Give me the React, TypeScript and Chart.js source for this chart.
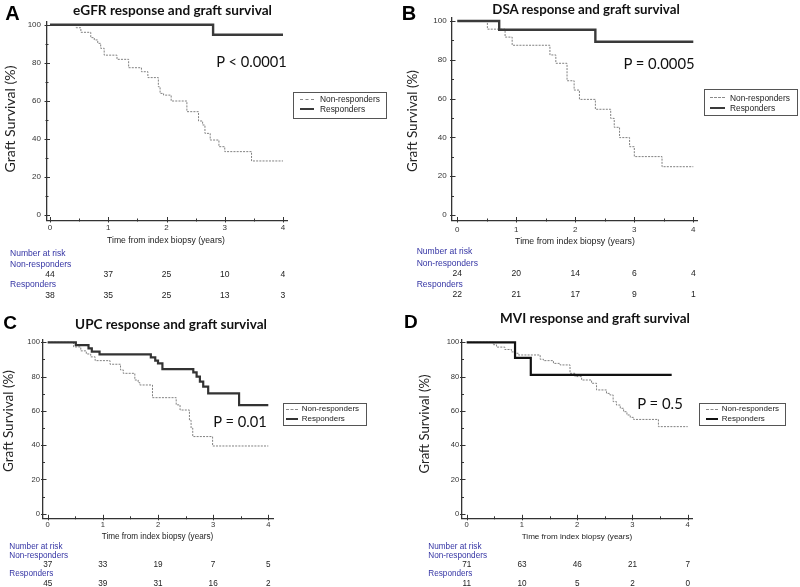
import React, { useEffect, useRef } from 'react';
import { Chart, registerables } from 'chart.js';
Chart.register(...registerables);

// ---------- shared axis values ----------
const timeTicks = [0, 1, 2, 3, 4];
const timeMinorTicks = [0.5, 1.5, 2.5, 3.5];
const survTicks = [0, 20, 40, 60, 80, 100];
const survMinorTicks = [10, 30, 50, 70, 90];
const seriesNames = ['Non-responders', 'Responders'];
const yAxisTitle = 'Graft Survival (%)';
const xAxisTitle = 'Time from index biopsy (years)';
const riskHeader = 'Number at risk';

// ---------- Panel A: eGFR ----------
const aTitle = 'eGFR response and graft survival';
const aP = 'P < 0.0001';
const aNonT = [0, 0.45, 0.53, 0.70, 0.76, 0.82, 0.87, 0.93, 1.15, 1.35, 1.57, 1.68, 1.86, 1.89, 1.95, 2.08, 2.35, 2.55, 2.62, 2.66, 2.75, 2.9, 3.0, 3.46, 4.0];
const aNonS = [100, 98.4, 96, 93.2, 92, 90.2, 87.6, 84, 81.8, 77.4, 75.3, 72.2, 67.4, 63.9, 63, 59.9, 54.3, 49.4, 47.3, 42.9, 39.4, 35.9, 33.3, 28.4, 28.4];
const aResT = [0, 2.8, 4.0];
const aResS = [100, 94.7, 94.7];
const aRiskNon = [44, 37, 25, 10, 4];
const aRiskRes = [38, 35, 25, 13, 3];

// ---------- Panel B: DSA ----------
const bTitle = 'DSA response and graft survival';
const bP = 'P = 0.0005';
const bNonT = [0, 0.51, 0.81, 0.93, 1.57, 1.67, 1.86, 1.98, 2.07, 2.34, 2.6, 2.66, 2.75, 2.92, 3.0, 3.47, 4.0];
const bNonS = [100, 95.8, 91.7, 87.5, 82.5, 78.2, 69.2, 64.4, 59.6, 54.5, 49.8, 45.2, 39.9, 35.2, 30.1, 24.9, 24.9];
const bResT = [0, 0.71, 2.34, 4.0];
const bResS = [100, 95.5, 89.3, 89.3];
const bRiskNon = [24, 20, 14, 6, 4];
const bRiskRes = [22, 21, 17, 9, 1];

// ---------- Panel C: UPC ----------
const cTitle = 'UPC response and graft survival';
const cP = 'P = 0.01';
const cNonT = [0, 0.47, 0.6, 0.7, 0.78, 0.86, 1.13, 1.32, 1.37, 1.58, 1.64, 1.67, 1.9, 2.33, 2.4, 2.57, 2.6, 2.63, 2.99, 4.0];
const cNonS = [100, 97.3, 95, 93.2, 91.5, 89.3, 87.2, 83.9, 81.9, 78, 76.5, 75.1, 67.7, 63.5, 60.5, 54.5, 50, 45, 39.5, 39.5];
const cResT = [0, 0.51, 0.74, 0.8, 0.94, 1.87, 1.95, 2.0, 2.08, 2.64, 2.7, 2.76, 2.82, 2.91, 3.47, 4.0];
const cResS = [100, 98.4, 96.5, 94.6, 93, 91.2, 89.3, 87.7, 84.4, 82.5, 80, 77, 74.1, 70.2, 63.4, 63.4];
const cRiskNon = [37, 33, 19, 7, 5];
const cRiskRes = [45, 39, 31, 16, 2];

// ---------- Panel D: MVI ----------
const dTitle = 'MVI response and graft survival';
const dP = 'P = 0.5';
const dNonT = [0, 0.48, 0.54, 0.69, 0.81, 0.875, 0.935, 1.33, 1.39, 1.57, 1.69, 1.87, 1.96, 2.08, 2.26, 2.35, 2.53, 2.59, 2.65, 2.71, 2.78, 2.84, 2.9, 2.96, 3.02, 3.47, 4.0];
const dNonS = [100, 98.6, 97.2, 95.8, 94.4, 93.6, 92.6, 90.1, 89.3, 87.7, 86.8, 81.9, 80, 78, 76.1, 72.2, 70.2, 69.3, 65.4, 63.4, 61.5, 59.5, 57.6, 56.2, 55, 50.8, 50.8];
const dResT = [0, 0.875, 1.16, 3.71];
const dResS = [100, 90.9, 81, 81];
const dRiskNon = [71, 63, 46, 21, 7];
const dRiskRes = [11, 10, 5, 2, 0];

// ---------- styling ----------
const SANS = '"Liberation Sans", Arial, sans-serif';
const HUM = 'Lato, "Open Sans", sans-serif';
const BLUE = '#3434a4';
const W = 800;
const H = 587;
const Y_BOX = 30;
const X_BOX = 16;

let measureCtx: CanvasRenderingContext2D | null = null;
function fitSize(text: string, family: string, weight: number, width: number): number {
  if (!measureCtx) measureCtx = document.createElement('canvas').getContext('2d');
  if (!measureCtx) return 10;
  measureCtx.font = `${weight} 100px ${family}`;
  const w = measureCtx.measureText(text).width;
  return (100 * width) / w;
}

type Layout = {
  letter: string; letterPos: [number, number]; letterSize: number;
  titlePos: [number, number]; titleW: number;
  yTitlePos: [number, number]; yTitleLen: number;
  xTitlePos: [number, number]; xTitleW: number;
  pPos: [number, number]; pW: number;
  legend: { x: number; y: number; w: number; h: number; rows: [number, number]; sampleX: number; sampleW: number; textX: number; textW: number };
  risk: { x: number; ys: number[]; labelW: number };
  axis: { left: number; top: number; right: number; bottom: number; t0: number; t4: number; y100: number; y0: number };
  tickSize: number; yTickRight: number; xTickY: number;
  resWidth: number; resColor: string;
};

type PanelData = {
  title: string; p: string;
  nonT: number[]; nonS: number[]; resT: number[]; resS: number[];
  riskNon: number[]; riskRes: number[];
};

const layoutA: Layout = {
  letter: 'A', letterPos: [12.5, 12.5], letterSize: 20,
  titlePos: [172.5, 10.5], titleW: 199,
  yTitlePos: [10, 119], yTitleLen: 107,
  xTitlePos: [166, 239.5], xTitleW: 118,
  pPos: [251.5, 61], pW: 71,
  legend: { x: 293, y: 92, w: 94, h: 26.5, rows: [99, 109.3], sampleX: 300, sampleW: 14, textX: 320, textW: 60 },
  risk: { x: 10, ys: [252.7, 263.7, 274.3, 284.3, 295.3], labelW: 55.7 },
  axis: { left: 46.5, top: 22, right: 287, bottom: 220.5, t0: 50, t4: 283, y100: 24.7, y0: 215 },
  tickSize: 8, yTickRight: 41, xTickY: 228,
  resWidth: 2.4, resColor: '#3a3a3a',
};
const layoutB: Layout = {
  letter: 'B', letterPos: [409, 12.5], letterSize: 20,
  titlePos: [586, 9.5], titleW: 188,
  yTitlePos: [413.3, 120.8], yTitleLen: 102,
  xTitlePos: [575, 240.7], xTitleW: 120,
  pPos: [659, 63.3], pW: 71.7,
  legend: { x: 704, y: 88.7, w: 94, h: 27, rows: [97.7, 107.7], sampleX: 710, sampleW: 15, textX: 730, textW: 60 },
  risk: { x: 416.7, ys: [250.7, 262.7, 274, 284.3, 295], labelW: 55.7 },
  axis: { left: 452, top: 18, right: 697.7, bottom: 220.5, t0: 457.3, t4: 693.3, y100: 21, y0: 215 },
  tickSize: 8, yTickRight: 446.7, xTickY: 229.3,
  resWidth: 2.4, resColor: '#3a3a3a',
};
const layoutC: Layout = {
  letter: 'C', letterPos: [10, 321.7], letterSize: 19,
  titlePos: [171, 324.5], titleW: 192,
  yTitlePos: [9, 421], yTitleLen: 102,
  xTitlePos: [157.5, 537.3], xTitleW: 111.7,
  pPos: [240, 420.7], pW: 54,
  legend: { x: 282.7, y: 403.3, w: 84, h: 22.7, rows: [409.3, 419], sampleX: 286, sampleW: 12, textX: 301.7, textW: 57.5 },
  risk: { x: 9.3, ys: [546.7, 555.7, 565, 574.3, 583.3], labelW: 53.3 },
  axis: { left: 43, top: 340, right: 273.3, bottom: 518.3, t0: 47.7, t4: 268.3, y100: 342.3, y0: 513.7 },
  tickSize: 7.6, yTickRight: 40, xTickY: 525,
  resWidth: 2.2, resColor: '#333333',
};
const layoutD: Layout = {
  letter: 'D', letterPos: [410.8, 320.5], letterSize: 19,
  titlePos: [595, 318.5], titleW: 190,
  yTitlePos: [425, 424], yTitleLen: 99,
  xTitlePos: [577, 537], xTitleW: 110.7,
  pPos: [660, 402.7], pW: 46,
  legend: { x: 699, y: 403.3, w: 87, h: 22.7, rows: [409.3, 419], sampleX: 706, sampleW: 12, textX: 721.7, textW: 57.5 },
  risk: { x: 428.3, ys: [546.7, 555.7, 565, 574.3, 583.3], labelW: 53.3 },
  axis: { left: 462, top: 340, right: 692.7, bottom: 518.3, t0: 466.7, t4: 687.7, y100: 342.3, y0: 513.7 },
  tickSize: 7.6, yTickRight: 459.3, xTickY: 525,
  resWidth: 2.2, resColor: '#111111',
};

const panels: { data: PanelData; layout: Layout }[] = [
  { data: { title: aTitle, p: aP, nonT: aNonT, nonS: aNonS, resT: aResT, resS: aResS, riskNon: aRiskNon, riskRes: aRiskRes }, layout: layoutA },
  { data: { title: bTitle, p: bP, nonT: bNonT, nonS: bNonS, resT: bResT, resS: bResS, riskNon: bRiskNon, riskRes: bRiskRes }, layout: layoutB },
  { data: { title: cTitle, p: cP, nonT: cNonT, nonS: cNonS, resT: cResT, resS: cResS, riskNon: cRiskNon, riskRes: cRiskRes }, layout: layoutC },
  { data: { title: dTitle, p: dP, nonT: dNonT, nonS: dNonS, resT: dResT, resS: dResS, riskNon: dRiskNon, riskRes: dRiskRes }, layout: layoutD },
];

// Ticks drawn across the axis lines (as in the original), positioned by the chart scales
const kmTicksPlugin = {
  id: 'kmTicks',
  afterDraw(chart: any) {
    const { ctx, chartArea } = chart;
    const xs = chart.scales.x;
    const ys = chart.scales.y;
    ctx.save();
    ctx.strokeStyle = '#333';
    ctx.lineWidth = 1;
    const drawY = (v: number, major: boolean) => {
      const py = Math.round(ys.getPixelForValue(v)) + 0.5;
      ctx.beginPath();
      ctx.moveTo(chartArea.left - (major ? 2 : 1), py);
      ctx.lineTo(chartArea.left + (major ? 3.5 : 2), py);
      ctx.stroke();
    };
    const drawX = (v: number, major: boolean) => {
      const px = Math.round(xs.getPixelForValue(v)) + 0.5;
      ctx.beginPath();
      ctx.moveTo(px, chartArea.bottom + (major ? 2 : 1));
      ctx.lineTo(px, chartArea.bottom - (major ? 3.5 : 2));
      ctx.stroke();
    };
    survTicks.forEach((v) => drawY(v, true));
    survMinorTicks.forEach((v) => drawY(v, false));
    timeTicks.forEach((v) => drawX(v, true));
    timeMinorTicks.forEach((v) => drawX(v, false));
    ctx.restore();
  },
};

// Number-at-risk values, placed under the x-axis ticks
const kmRiskPlugin = {
  id: 'kmRisk',
  afterDraw(chart: any, _args: any, opts: any) {
    if (!opts || !opts.rows) return;
    const { ctx } = chart;
    const xs = chart.scales.x;
    ctx.save();
    ctx.font = `${opts.size}px ${SANS}`;
    ctx.fillStyle = '#222';
    ctx.textAlign = 'center';
    ctx.textBaseline = 'middle';
    opts.rows.forEach((row: { y: number; values: number[] }) => {
      row.values.forEach((v, i) => {
        ctx.fillText(String(v), xs.getPixelForValue(timeTicks[i]), row.y);
      });
    });
    ctx.restore();
  },
};

function KMChart({ data, layout }: { data: PanelData; layout: Layout }) {
  const ref = useRef<HTMLCanvasElement>(null);
  useEffect(() => {
    if (!ref.current) return;
    const a = layout.axis;
    const ppy = (a.t4 - a.t0) / 4;
    const ppu = (a.y0 - a.y100) / 100;
    const xMin = -(a.t0 - a.left) / ppy;
    const xMax = 4 + (a.right - a.t4) / ppy;
    const yMin = -(a.bottom - a.y0) / ppu;
    const yMax = 100 + (a.y100 - a.top) / ppu;
    const lh = 1.2;
    const riskSize = fitSize(riskHeader, SANS, 400, layout.risk.labelW);
    const chart = new Chart(ref.current, {
      type: 'line',
      data: {
        datasets: [
          {
            label: seriesNames[1],
            data: data.resT.map((t, i) => ({ x: t, y: data.resS[i] })),
            stepped: 'before',
            borderColor: layout.resColor,
            borderWidth: layout.resWidth,
            pointRadius: 0,
            fill: false,
          },
          {
            label: seriesNames[0],
            data: data.nonT.map((t, i) => ({ x: t, y: data.nonS[i] })),
            stepped: 'before',
            borderColor: '#808080',
            borderWidth: 1,
            borderDash: [2, 1.2],
            pointRadius: 0,
            fill: false,
          },
        ],
      },
      options: {
        animation: false,
        responsive: false,
        maintainAspectRatio: false,
        events: [],
        layout: { padding: { left: a.left - Y_BOX, top: a.top, right: W - a.right, bottom: H - a.bottom - X_BOX } },
        plugins: {
          legend: { display: false },
          tooltip: { enabled: false },
          title: { display: false },
          kmRisk: {
            size: riskSize,
            rows: [
              { y: layout.risk.ys[2], values: data.riskNon },
              { y: layout.risk.ys[4], values: data.riskRes },
            ],
          },
        } as any,
        scales: {
          x: {
            type: 'linear',
            min: xMin,
            max: xMax,
            afterFit: (s: any) => { s.height = X_BOX; },
            afterBuildTicks: (s: any) => { s.ticks = timeTicks.map((v) => ({ value: v })); },
            grid: { display: false, drawTicks: false },
            border: { display: true, color: '#333', width: 1.3 },
            ticks: {
              autoSkip: false,
              maxRotation: 0,
              color: '#333',
              font: { family: SANS, size: layout.tickSize, lineHeight: lh },
              padding: layout.xTickY - a.bottom - (layout.tickSize * lh) / 2,
              callback: (v: any) => String(v),
            },
          },
          y: {
            type: 'linear',
            min: yMin,
            max: yMax,
            afterFit: (s: any) => { s.width = Y_BOX; },
            afterBuildTicks: (s: any) => { s.ticks = survTicks.map((v) => ({ value: v })); },
            grid: { display: false, drawTicks: false },
            border: { display: true, color: '#333', width: 1.3 },
            ticks: {
              autoSkip: false,
              color: '#333',
              font: { family: SANS, size: layout.tickSize, lineHeight: lh },
              padding: a.left - layout.yTickRight,
              callback: (v: any) => String(v),
            },
          },
        },
      },
      plugins: [kmTicksPlugin, kmRiskPlugin],
    } as any);
    return () => chart.destroy();
  }, [data, layout]);
  return <canvas ref={ref} width={W} height={H} style={{ position: 'absolute', left: 0, top: 0, width: W, height: H }} />;
}

function Txt(props: {
  x: number; y: number; size: number; family: string; weight?: number; color?: string;
  anchor?: 'start' | 'middle'; rotate?: boolean; children: React.ReactNode;
}) {
  const { x, y, size, family, weight = 400, color = '#222', anchor = 'middle', rotate = false } = props;
  const tx = anchor === 'start' ? '0' : '-50%';
  return (
    <div
      style={{
        position: 'absolute', left: x, top: y, whiteSpace: 'nowrap',
        transform: `translate(${tx},-50%)${rotate ? ' rotate(-90deg)' : ''}`,
        fontFamily: family, fontWeight: weight, fontSize: size, lineHeight: 1, color,
      }}
    >
      {props.children}
    </div>
  );
}

function PanelText({ data, layout }: { data: PanelData; layout: Layout }) {
  const titleSize = fitSize(data.title, HUM, 700, layout.titleW);
  const yTitleSize = fitSize(yAxisTitle, HUM, 400, layout.yTitleLen);
  const xTitleSize = fitSize(xAxisTitle, SANS, 400, layout.xTitleW);
  const pSize = fitSize(data.p, HUM, 400, layout.pW);
  const legSize = fitSize(seriesNames[0], SANS, 400, layout.legend.textW);
  const riskSize = fitSize(riskHeader, SANS, 400, layout.risk.labelW);
  const lg = layout.legend;
  return (
    <>
      <Txt x={layout.letterPos[0]} y={layout.letterPos[1]} size={layout.letterSize} family={SANS} weight={700} color="#000">{layout.letter}</Txt>
      <Txt x={layout.titlePos[0]} y={layout.titlePos[1]} size={titleSize} family={HUM} weight={700} color="#111">{data.title}</Txt>
      <Txt x={layout.yTitlePos[0]} y={layout.yTitlePos[1]} size={yTitleSize} family={HUM} rotate>{yAxisTitle}</Txt>
      <Txt x={layout.xTitlePos[0]} y={layout.xTitlePos[1]} size={xTitleSize} family={SANS}>{xAxisTitle}</Txt>
      <Txt x={layout.pPos[0]} y={layout.pPos[1]} size={pSize} family={HUM} color="#111">{data.p}</Txt>
      <div style={{ position: 'absolute', left: lg.x, top: lg.y, width: lg.w, height: lg.h, border: '1px solid #555', boxSizing: 'border-box' }} />
      <div style={{ position: 'absolute', left: lg.sampleX, top: lg.rows[0] - 0.5, width: lg.sampleW, height: 0, borderTop: '1px dashed #8a8a8a' }} />
      <div style={{ position: 'absolute', left: lg.sampleX, top: lg.rows[1] - 1, width: lg.sampleW, height: 2, background: layout.resColor }} />
      <Txt x={lg.textX} y={lg.rows[0]} size={legSize} family={SANS} anchor="start">{seriesNames[0]}</Txt>
      <Txt x={lg.textX} y={lg.rows[1]} size={legSize} family={SANS} anchor="start">{seriesNames[1]}</Txt>
      <Txt x={layout.risk.x} y={layout.risk.ys[0]} size={riskSize} family={SANS} anchor="start" color={BLUE}>{riskHeader}</Txt>
      <Txt x={layout.risk.x} y={layout.risk.ys[1]} size={riskSize} family={SANS} anchor="start" color={BLUE}>{seriesNames[0]}</Txt>
      <Txt x={layout.risk.x} y={layout.risk.ys[3]} size={riskSize} family={SANS} anchor="start" color={BLUE}>{seriesNames[1]}</Txt>
    </>
  );
}

export default function App() {
  return (
    <div style={{ position: 'absolute', left: 0, top: 0, width: W, height: H, background: '#fff', overflow: 'hidden' }}>
      {panels.map((p, i) => (
        <KMChart key={'c' + i} data={p.data} layout={p.layout} />
      ))}
      {panels.map((p, i) => (
        <PanelText key={'t' + i} data={p.data} layout={p.layout} />
      ))}
    </div>
  );
}
